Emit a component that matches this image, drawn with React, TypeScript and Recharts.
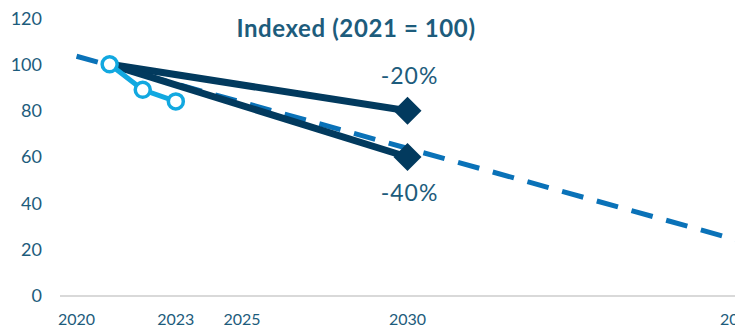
import { LineChart, Line, XAxis, YAxis } from 'recharts';

// Indexed emissions path (2021 = 100): actuals, two targets to 2030 and a dashed trend line.

const xTicks = [2020, 2023, 2025, 2030, 2040];
const yTicks = [0, 20, 40, 60, 80, 100, 120];

const trendYears = [2020, 2040];
const trendValues = [103.5, 24];

const actualYears = [2021, 2022, 2023];
const actualValues = [100, 89, 84];

const targetYears = [2021, 2030];
const target20Values = [100, 80];
const target40Values = [100, 60];

const targetLabels = ['-20%', '-40%'];

const TEXT = '#1d5c7c';
const NAVY = '#023a5e';
const LIGHT = '#12a8e0';
const DASH = '#0a72b8';
const FONT = 'Lato, "Open Sans", sans-serif';

const toRows = (years: number[], values: number[]) => years.map((year, i) => ({ year, value: values[i] }));

const trendData = toRows(trendYears, trendValues);
const actualData = toRows(actualYears, actualValues);
const target20Data = toRows(targetYears, target20Values);
const target40Data = toRows(targetYears, target40Values);

function Diamond(props: any) {
  const { cx, cy, index } = props;
  if (index !== 1 || cx == null || cy == null) return <g key={index} />;
  const s = 14;
  return (
    <polygon
      key={index}
      points={`${cx},${cy - s} ${cx + s},${cy} ${cx},${cy + s} ${cx - s},${cy}`}
      fill={NAVY}
    />
  );
}

function endLabel(text: string, dy: number) {
  return (props: any) => {
    const { x, y, index } = props;
    if (index !== 1) return <g key={index} />;
    return (
      <text
        key={index}
        x={x + 2}
        y={y + dy}
        textAnchor="middle"
        dominantBaseline="central"
        fill={TEXT}
        fontSize={23}
        letterSpacing={1}
        fontFamily={FONT}
      >
        {text}
      </text>
    );
  };
}

export default function App() {
  return (
    <div style={{ position: 'relative', width: 747, height: 321 }}>
      <div
        style={{
          position: 'absolute',
          left: 348,
          top: 7,
          transform: 'translateX(-50%)',
          lineHeight: '26px',
          fontSize: 24,
          letterSpacing: 0.6,
          fontWeight: 700,
          fontFamily: FONT,
          color: TEXT,
          whiteSpace: 'nowrap',
        }}
      >
        Indexed (2021 = 100)
      </div>
      <LineChart width={747} height={321} margin={{ top: 10, right: 0, bottom: 0, left: 0 }}>
        <XAxis
          dataKey="year"
          type="number"
          domain={[2019.5, 2040.5]}
          ticks={xTicks}
          allowDataOverflow
          tickLine={false}
          tickSize={0}
          tickMargin={18}
          height={33}
          axisLine={{ stroke: '#d9d9d9', strokeWidth: 2 }}
          tick={{ fill: TEXT, fontSize: 16, fontFamily: FONT }}
        />
        <YAxis
          type="number"
          domain={[0, 120]}
          ticks={yTicks}
          width={52}
          axisLine={false}
          tickLine={false}
          tickSize={0}
          tickMargin={18}
          tick={{ fill: TEXT, fontSize: 18, fontFamily: FONT }}
        />
        <Line
          data={trendData}
          dataKey="value"
          stroke={DASH}
          strokeWidth={5}
          strokeDasharray="22 14"
          dot={false}
          activeDot={false}
          isAnimationActive={false}
        />
        <Line
          data={target20Data}
          dataKey="value"
          stroke={NAVY}
          strokeWidth={7}
          dot={<Diamond />}
          activeDot={false}
          label={endLabel(targetLabels[0], -36)}
          isAnimationActive={false}
        />
        <Line
          data={target40Data}
          dataKey="value"
          stroke={NAVY}
          strokeWidth={7}
          dot={<Diamond />}
          activeDot={false}
          label={endLabel(targetLabels[1], 35)}
          isAnimationActive={false}
        />
        <Line
          data={actualData}
          dataKey="value"
          stroke={LIGHT}
          strokeWidth={5}
          dot={{ r: 7.5, fill: '#ffffff', stroke: LIGHT, strokeWidth: 3.5 }}
          activeDot={false}
          isAnimationActive={false}
        />
      </LineChart>
    </div>
  );
}
